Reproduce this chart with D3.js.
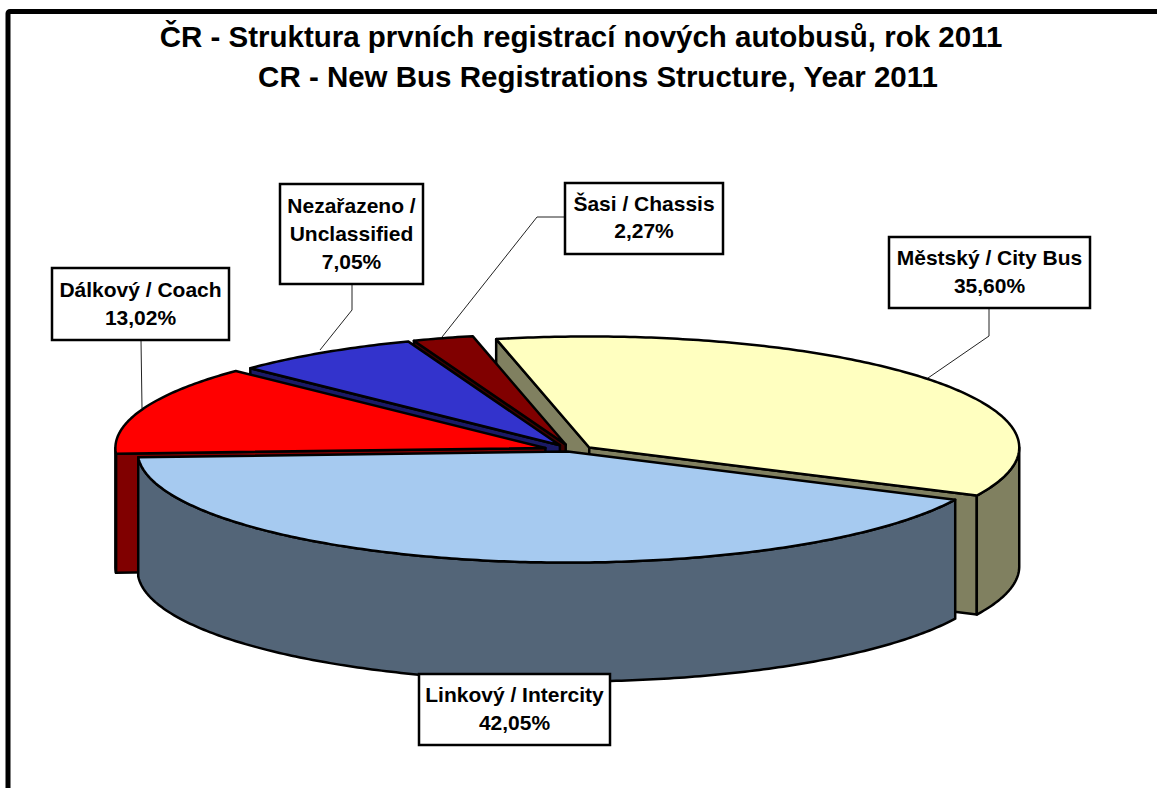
<!DOCTYPE html>
<html>
<head>
<meta charset="utf-8">
<script src="https://cdnjs.cloudflare.com/ajax/libs/d3/7.8.5/d3.min.js"></script>
<style>
	html, body {margin: 0; padding: 0; background: #fff; overflow: hidden;}
	text {font-family: "Liberation Sans", Arial, sans-serif; font-weight: bold; fill: #000;}
</style>
</head>
<body>
<script>
	// chart values, in clockwise order starting from the back
	var categories = ['Městský / City Bus', 'Linkový / Intercity', 'Dálkový / Coach', 'Nezařazeno / Unclassified', 'Šasi / Chassis'];
	var shares = [35.60, 42.05, 13.02, 7.05, 2.27];
	var topColors = ['#ffffc0', '#a6caf0', '#ff0000', '#3333cc', '#800000'];
	var sideColors = ['#808060', '#536578', '#800000', '#1a1a66', '#400000'];
	var titleLines = ['ČR - Struktura prvních registrací nových autobusů, rok 2011', 'CR - New Bus Registrations Structure, Year 2011'];

	var W = 1157, H = 788;
	var cx = 572, cy = 450, rx = 430, ry = 111, depth = 119, explode = 22;
	var startAngle = -12.5 * Math.PI / 180;

	// small per-slice shifts on top of the explode offset
	var sliceNudge = [[0, 1], [0, -4], [-6, 0], [0, 0], [0, 0]];

	// label box and leader layout, same order as categories
	var labelLayout = [
		{box: [889, 237, 201, 71], lines: [265, 293], leader: [[989, 308], [989, 336], [928, 378]]},
		{box: [419, 674, 191, 71], lines: [702, 730], leader: []},
		{box: [52, 268, 177, 72], lines: [297, 325], leader: [[141, 340], [142, 408]]},
		{box: [280, 184, 143, 100], lines: [213, 241, 269], leader: [[352, 284], [352, 310], [320, 350]]},
		{box: [565, 183, 158, 71], lines: [211, 238], leader: [[565, 217], [537, 217], [442, 337]]}];

	var svg = d3.select('body').append('svg').attr('width', W).attr('height', H);
	svg.append('rect').attr('width', W).attr('height', H).attr('fill', '#fff');

	// chart frame, runs off the right and bottom of the picture
	svg.append('rect')
		.attr('x', 8).attr('y', 11.5)
		.attr('width', 1400).attr('height', 1200)
		.attr('rx', 2)
		.attr('fill', 'none').attr('stroke', '#000').attr('stroke-width', 5);

	svg.selectAll('.title').data(titleLines).enter().append('text')
		.attr('class', 'title')
		.attr('x', function(d, i) {return i ? 598 : 581;})
		.attr('y', function(d, i) {return i ? 87 : 47;})
		.attr('text-anchor', 'middle')
		.attr('font-size', 29.5)
		.text(function(d) {return d;});

	var pie = d3.pie().sort(null).startAngle(startAngle).endAngle(startAngle + 2 * Math.PI);
	var arcs = pie(shares);

	var line = d3.line();

	function center(arc) {
		var mid = (arc.startAngle + arc.endAngle) / 2;
		var nudge = sliceNudge[arc.index];
		return [
			cx + explode * Math.sin(mid) + nudge[0],
			cy - explode * (ry / rx) * Math.cos(mid) + nudge[1]];}

	function edge(c, angle) {
		return [c[0] + rx * Math.sin(angle), c[1] - ry * Math.cos(angle)];}

	function sampleArc(c, a0, a1) {
		var n = Math.max(2, Math.ceil((a1 - a0) * 80));
		return d3.range(n + 1).map(function(i) {return edge(c, a0 + (a1 - a0) * i / n);});}

	function down(points) {
		return points.map(function(p) {return [p[0], p[1] + depth];}).reverse();}

	function shape(g, points, fill) {
		g.append('path')
			.attr('d', line(points) + 'Z')
			.attr('fill', fill)
			.attr('stroke', '#000')
			.attr('stroke-width', 2.5)
			.attr('stroke-linejoin', 'round');}

	function drawSlice(arc) {
		var g = svg.append('g').attr('class', 'slice');
		var c = center(arc), side = sideColors[arc.index];
		var cut;

		// cut faces, only the ones turned towards the viewer
		if (Math.sin(arc.startAngle) < 0) {
			cut = [c, edge(c, arc.startAngle)];
			shape(g, cut.concat(down(cut)), side);}
		if (Math.sin(arc.endAngle) > 0) {
			cut = [c, edge(c, arc.endAngle)];
			shape(g, cut.concat(down(cut)), side);}

		// outer rim, front half of the ellipse only
		var a0 = Math.max(arc.startAngle, Math.PI / 2);
		var a1 = Math.min(arc.endAngle, 3 * Math.PI / 2);
		if (a1 > a0) {
			var rim = sampleArc(c, a0, a1);
			shape(g, rim.concat(down(rim)), side);}

		shape(g, [c].concat(sampleArc(c, arc.startAngle, arc.endAngle)), topColors[arc.index]);}

	// back to front: yellow first, its side runs under the small slices
	[0, 4, 3, 2, 1].forEach(function(i) {drawSlice(arcs[i]);});

	function valueText(v) {
		return v.toFixed(2).replace('.', ',') + '%';}

	categories.forEach(function(name, i) {
		var l = labelLayout[i];
		var g = svg.append('g').attr('class', 'label');
		if (l.leader.length) {
			g.append('path')
				.attr('d', line(l.leader))
				.attr('fill', 'none').attr('stroke', '#222').attr('stroke-width', 1);}
		g.append('rect')
			.attr('x', l.box[0]).attr('y', l.box[1])
			.attr('width', l.box[2]).attr('height', l.box[3])
			.attr('fill', '#fff').attr('stroke', '#000').attr('stroke-width', 2.5);
		var rows = i === 3 ? ['Nezařazeno /', 'Unclassified'] : [name];
		rows.concat([valueText(shares[i])]).forEach(function(row, k) {
			g.append('text')
				.attr('x', l.box[0] + l.box[2] / 2)
				.attr('y', l.lines[k])
				.attr('text-anchor', 'middle')
				.attr('font-size', 21)
				.text(row);});});
</script>
</body>
</html>
